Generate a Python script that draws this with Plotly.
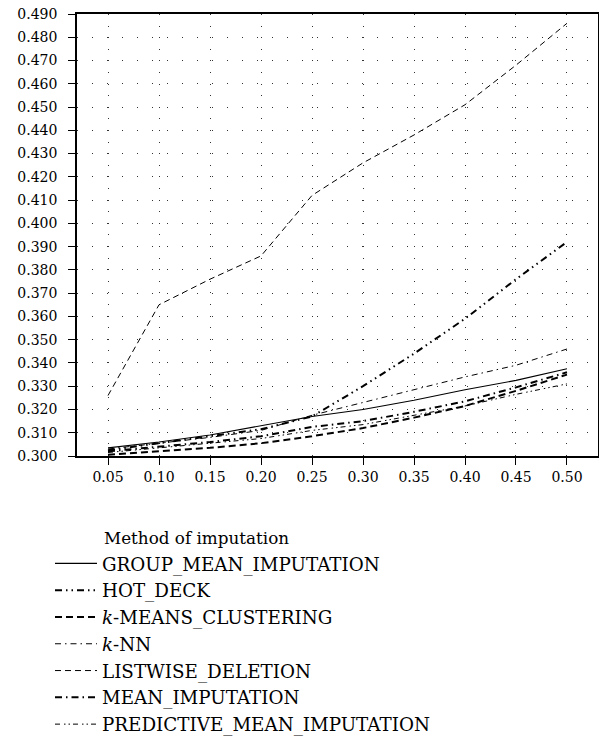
import plotly.graph_objects as go

missing_rate = [0.05, 0.10, 0.15, 0.20, 0.25, 0.30, 0.35, 0.40, 0.45, 0.50]

group_mean_imputation = [0.3035, 0.3060, 0.3090, 0.3130, 0.3170, 0.3200, 0.3240, 0.3285, 0.3325, 0.3375]
hot_deck = [0.3025, 0.3055, 0.3085, 0.3115, 0.3170, 0.3300, 0.3440, 0.3590, 0.3760, 0.3920]
k_means_clustering = [0.3005, 0.3020, 0.3035, 0.3055, 0.3085, 0.3120, 0.3165, 0.3215, 0.3280, 0.3350]
k_nn = [0.3030, 0.3055, 0.3080, 0.3110, 0.3175, 0.3230, 0.3285, 0.3340, 0.3390, 0.3460]
listwise_deletion = [0.3260, 0.3650, 0.3760, 0.3860, 0.4120, 0.4260, 0.4380, 0.4510, 0.4680, 0.4860]
mean_imputation = [0.3020, 0.3040, 0.3060, 0.3085, 0.3125, 0.3150, 0.3190, 0.3235, 0.3295, 0.3360]
predictive_mean_imputation = [0.3015, 0.3035, 0.3055, 0.3075, 0.3110, 0.3135, 0.3175, 0.3215, 0.3265, 0.3310]

series_names = [
    "GROUP_MEAN_IMPUTATION",
    "HOT_DECK",
    "<i>k</i>-MEANS_CLUSTERING",
    "<i>k</i>-NN",
    "LISTWISE_DELETION",
    "MEAN_IMPUTATION",
    "PREDICTIVE_MEAN_IMPUTATION",
]
series_values = [
    group_mean_imputation,
    hot_deck,
    k_means_clustering,
    k_nn,
    listwise_deletion,
    mean_imputation,
    predictive_mean_imputation,
]
styles = [
    dict(dash="solid", width=1.1),
    dict(dash="7px,4px,1.5px,4px,1.5px,4px", width=2),
    dict(dash="7px,4px", width=2),
    dict(dash="6px,4px,1.5px,4px", width=1),
    dict(dash="6px,4px", width=1),
    dict(dash="7px,4px,1.5px,4px", width=2),
    dict(dash="5px,4px,1.5px,3px,1.5px,3px", width=1),
]

FONT = "DejaVu Serif"

fig = go.Figure()
for name, vals, st in zip(series_names, series_values, styles):
    fig.add_trace(go.Scatter(
        x=missing_rate, y=vals, name=name, mode="lines",
        line=dict(color="black", width=st["width"], dash=st["dash"]),
    ))

fig.update_layout(
    width=599, height=740,
    margin=dict(l=77, r=1, t=14, b=284, autoexpand=False),
    paper_bgcolor="white", plot_bgcolor="white",
    font=dict(family=FONT, color="black", size=14),
    showlegend=True,
    legend=dict(
        xref="container", yref="container",
        x=50 / 599, y=1 - 545 / 740, xanchor="left", yanchor="top",
        font=dict(family=FONT, size=18.3, color="black"),
        bgcolor="rgba(0,0,0,0)", borderwidth=0,
        tracegroupgap=0, itemwidth=42,
    ),
    annotations=[dict(
        text="Method of imputation", xref="paper", yref="paper",
        x=(102 - 77) / 521, y=(456 - 538) / 442, xanchor="left", yanchor="middle",
        showarrow=False, font=dict(family=FONT, size=16.8, color="black"),
    )],
)

fig.update_xaxes(
    range=[0.0196, 0.5304], automargin=False,
    tickmode="array", tickvals=missing_rate, ticktext=[f"{v:.2f}" for v in missing_rate],
    ticks="outside", ticklen=7, tickwidth=1, tickcolor="black", tickangle=0,
    showline=True, mirror=True, linecolor="black", linewidth=1.5,
    showgrid=True, gridcolor="#333333", gridwidth=1, griddash="1px,10.6px",
    zeroline=False, tickfont=dict(family=FONT, size=14, color="black"),
)
fig.update_yaxes(
    range=[0.300, 0.490], dtick=0.01, tick0=0.3, tickformat=".3f", automargin=False,
    ticks="outside", ticklen=7, tickwidth=1, tickcolor="black",
    ticklabelstandoff=8,
    showline=True, mirror=True, linecolor="black", linewidth=1.5,
    showgrid=True, gridcolor="#333333", gridwidth=1, griddash="1px,14px",
    zeroline=False, tickfont=dict(family=FONT, size=14, color="black"),
)

fig.write_html("out.html")
